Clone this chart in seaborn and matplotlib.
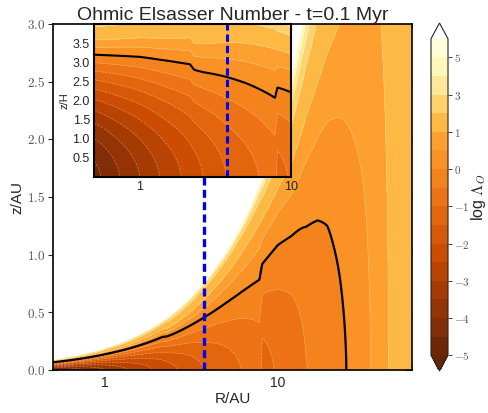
import numpy as np
import matplotlib
matplotlib.use("Agg")
import matplotlib.pyplot as plt
import seaborn as sns
from matplotlib.ticker import FuncFormatter, LogLocator, MultipleLocator, NullFormatter, FixedLocator

sns.set_theme(style="white")
plt.rcParams["font.family"] = ["Liberation Sans", "DejaVu Sans"]
plt.rcParams["mathtext.fontset"] = "cm"

# ---- disc structure -------------------------------------------------------
H_1AU = 0.0435          # pressure scale height at 1 AU [AU]
FLARE = 1.05            # H ~ R**FLARE
ZETA_POWER = 1.7        # vertical growth exponent of log Lambda_O

# radial nodes (AU) with midplane log Lambda_O and its vertical growth rate
R_nodes = [0.5, 0.554, 0.74, 1.0, 1.35, 1.88, 2.15, 2.3, 2.62, 3.73, 5.0,
           7.85, 8.15, 10.0, 12.0, 14.6, 17.0, 19.4, 21.2, 22.7, 24.0, 25.0,
           27.0, 30.8, 34.6, 40.0, 44.0, 60.0]
mid_log_lambda = [-4.65, -4.5, -4.0, -3.5, -3.0, -2.5, -2.3, -2.2, -2.0, -1.5,
                  -1.2, -0.75, -1.15, -0.95, -0.8, -0.51, -0.42, -0.31, -0.2,
                  -0.12, -0.05, 0.0, 0.1, 0.27, 0.5, 0.85, 1.0, 1.35]
vertical_rise = [0.644, 0.626, 0.563, 0.50, 0.446, 0.39, 0.366, 0.382, 0.36,
                 0.292, 0.26, 0.218, 0.271, 0.243, 0.25, 0.2, 0.2, 0.2, 0.2,
                 0.2, 0.2, 0.2, 0.2, 0.2, 0.15, 0.08, 0.06, 0.05]

# ionised surface layer: onset height (in z/H) and sharpness
surf_R = [0.5, 1.0, 3.75, 6.0, 8.0, 10.0, 13.0, 17.0, 25.0, 60.0]
surf_zeta = [4.45, 4.35, 4.25, 4.1, 3.98, 3.82, 3.8, 3.75, 3.7, 3.7]
surf_width = [0.2, 0.15, 0.15, 0.17, 0.22, 0.35, 0.45, 0.5, 0.5, 0.5]

R_SLICE = 3.75          # radius of the vertical cut [AU]

LEVELS = [-5, -4.5, -4, -3.5, -3, -2.5, -2, -1.5, -1, -0.5, 0, 0.5, 1,
          2, 3, 4, 5, 6]
CBAR_TICKS = [-5, -4, -3, -2, -1, 0, 1, 3, 5]


def scale_height(R):
    return H_1AU * R ** FLARE


def log_lambda(R, zeta):
    lr = np.log10(R)
    m = np.interp(lr, np.log10(R_nodes), mid_log_lambda)
    s = np.interp(lr, np.log10(R_nodes), vertical_rise)
    zs = np.interp(lr, np.log10(surf_R), surf_zeta)
    w = np.interp(lr, np.log10(surf_R), surf_width)
    surf = np.exp(np.clip((zeta - zs) / w, -50, 5))
    return m + s * zeta ** ZETA_POWER + surf


cmap = sns.color_palette("YlOrBr_r", as_cmap=True).copy()
cmap.set_over("white")

fig = plt.figure(figsize=(4.88, 4.13), dpi=100)
W, Hf = 488.0, 413.0
ax = fig.add_axes([53 / W, 43 / Hf, 359 / W, 346 / Hf])
cax = fig.add_axes([431 / W, 42 / Hf, 17 / W, 348 / Hf])
axin = fig.add_axes([94 / W, 236 / Hf, 197 / W, 153 / Hf])

# ---- main panel: R-z plane -------------------------------------------------
R = np.logspace(np.log10(0.5), np.log10(60), 600)
z = np.linspace(0, 3.0, 700)
RR, ZZ = np.meshgrid(R, z)
F = log_lambda(RR, ZZ / scale_height(RR))

cf = ax.contourf(RR, ZZ, F, levels=LEVELS, cmap=cmap, extend="both")
ax.contour(RR, ZZ, F, levels=LEVELS, colors="white", linewidths=0.5, alpha=0.3)
ax.contour(RR, ZZ, F, levels=[0], colors="black", linewidths=1.6)
ax.axvline(R_SLICE, color="#0000ee", lw=2.4, ls=(0, (2.4, 1.3)))

ax.set_xscale("log")
ax.set_xlim(0.5, 60)
ax.set_ylim(0, 3.0)
ax.xaxis.set_major_locator(FixedLocator([1, 10]))
ax.xaxis.set_major_formatter(FuncFormatter(lambda v, p: f"{v:g}"))
ax.xaxis.set_minor_locator(LogLocator(base=10, subs=np.arange(2, 10)))
ax.xaxis.set_minor_formatter(NullFormatter())
ax.yaxis.set_major_locator(MultipleLocator(0.5))
ax.yaxis.set_major_formatter(FuncFormatter(lambda v, p: f"${v:.1f}$"))
ax.tick_params(axis="x", which="both", direction="in", top=True, bottom=True,
               labelsize=10, pad=4)
ax.tick_params(axis="x", which="major", length=5, width=0.8)
ax.tick_params(axis="x", which="minor", length=3, width=0.6)
ax.tick_params(axis="y", which="major", direction="inout", left=True,
               right=False, length=7, width=0.8, labelsize=9.5,
               labelcolor="#555555", pad=2)
ax.set_xlabel("R/AU", fontsize=11, labelpad=2)
ax.set_ylabel("z/AU", fontsize=11, labelpad=2)
ax.set_title("Ohmic Elsasser Number - t=0.1 Myr", fontsize=14, pad=3)
for sp in ax.spines.values():
    sp.set_color("black")
    sp.set_linewidth(1.2)
# inward ticks on the right spine
axr = ax.secondary_yaxis("right")
axr.yaxis.set_major_locator(MultipleLocator(0.5))
axr.tick_params(axis="y", direction="in", length=5, width=0.8, labelright=False)
axr.spines["right"].set_visible(False)

# ---- colour bar ------------------------------------------------------------
cb = fig.colorbar(cf, cax=cax, ticks=CBAR_TICKS)
cb.ax.yaxis.set_major_formatter(FuncFormatter(lambda v, p: f"${v:g}$"))
cb.ax.tick_params(labelsize=8, labelcolor="#555555", length=3, width=0.6,
                  direction="out", pad=1)
cb.outline.set_linewidth(0.8)
cax.text(2.8, 0.5, r"log $\Lambda_O$", rotation=90, transform=cax.transAxes,
         ha="center", va="center", fontsize=11.5)

# ---- inset: R - z/H plane --------------------------------------------------
Ri = np.logspace(np.log10(0.5), np.log10(10), 500)
zeta = np.linspace(0, 4.0, 400)
RRi, ZZi = np.meshgrid(Ri, zeta)
Fi = log_lambda(RRi, ZZi)
axin.contourf(RRi, ZZi, Fi, levels=LEVELS, cmap=cmap, extend="both")
axin.contour(RRi, ZZi, Fi, levels=LEVELS, colors="white", linewidths=0.5,
             alpha=0.3)
axin.contour(RRi, ZZi, Fi, levels=[0], colors="black", linewidths=1.5)
axin.axvline(R_SLICE, color="#0000ee", lw=2.2, ls=(0, (2.4, 1.3)))
axin.set_xscale("log")
axin.set_xlim(0.5, 10)
axin.set_ylim(0, 4.0)
axin.xaxis.set_major_locator(FixedLocator([1, 10]))
axin.xaxis.set_major_formatter(FuncFormatter(lambda v, p: f"{v:g}"))
axin.xaxis.set_minor_locator(LogLocator(base=10, subs=np.arange(2, 10)))
axin.xaxis.set_minor_formatter(NullFormatter())
axin.yaxis.set_major_locator(FixedLocator([0.5, 1, 1.5, 2, 2.5, 3, 3.5]))
axin.yaxis.set_major_formatter(FuncFormatter(lambda v, p: f"{v:.1f}"))
axin.tick_params(which="both", direction="in", top=True, right=True,
                 labelsize=9, pad=3)
axin.tick_params(which="major", length=4, width=0.8)
axin.tick_params(which="minor", length=2.5, width=0.6)
axin.set_ylabel("z/H", fontsize=8, labelpad=2)
for sp in axin.spines.values():
    sp.set_color("black")
    sp.set_linewidth(1.5)

fig.savefig("out.png", dpi=100)
